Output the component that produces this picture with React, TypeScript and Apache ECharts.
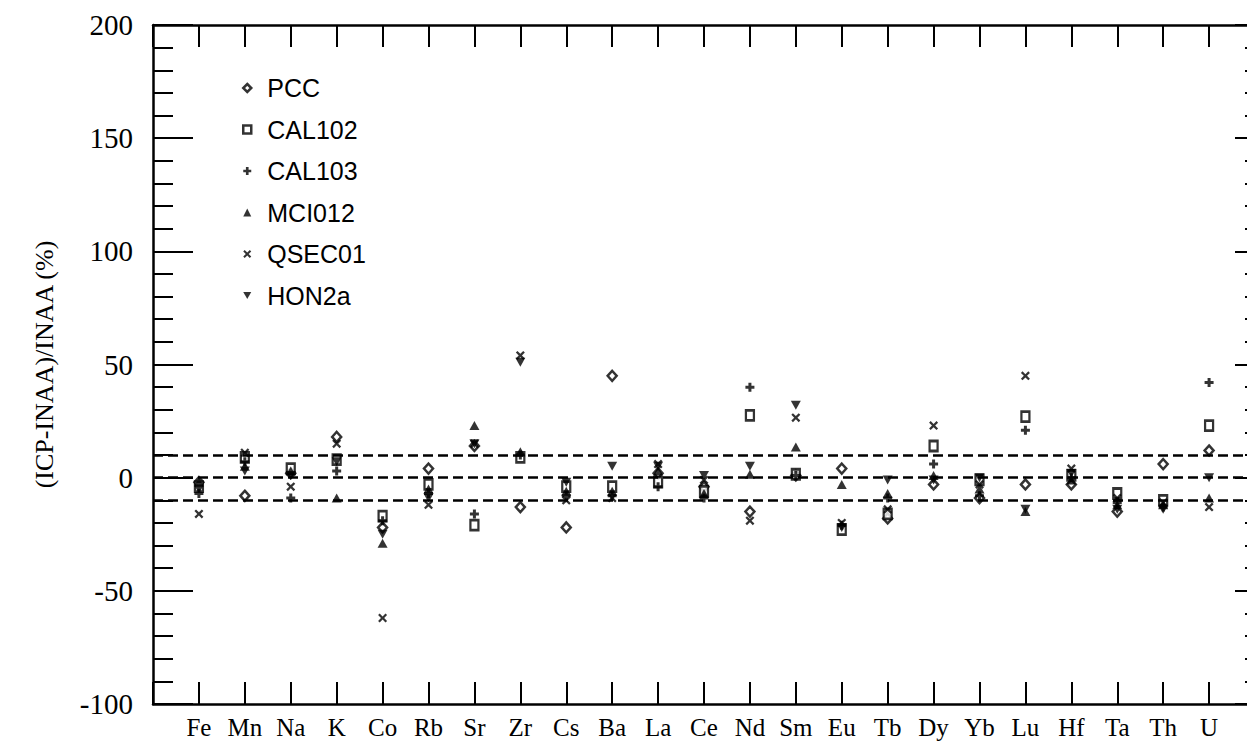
import React, { useEffect, useRef } from "react";
import * as echarts from "echarts";

const categories = ["Fe","Mn","Na","K","Co","Rb","Sr","Zr","Cs","Ba","La","Ce","Nd","Sm","Eu","Tb","Dy","Yb","Lu","Hf","Ta","Th","U"];

const PCC =    [-2, -8, 2, 18, -22, 4, 14, -13, -22, 45, 2, -4, -15, 1, 4, -18, -3, -9, -3, -3, -15, 6, 12];
const CAL102 = [-4, 9, 4, 8, -17, -3, -21, 9, -4, -4, -2, -6, 27.5, 1.5, -23, -16, 14, -1, 27, 1, -7, -10, 23];
const CAL103 = [-7, 7, -9, 3, -19, -7, -16, 10, -8, -8, -4, -9, 40, 1, -21, -9, 6, -8, 21, 0, -11, -13, 42];
const MCI012 = [-2, 5, 3, -9, -29, -5, 23, 11.5, -6, -6, 3, -7, 1.5, 13.5, -3, -7, 1, -5, -15, -1, -12, -12, -9];
const QSEC01 = [-16, 11, -4, 15, -62, -12, 15, 54, -10, -9, 6, -1, -19, 26.5, -20, -14, 23, -3, 45, 4, -9, -11, -13];
const HON2a =  [-5, 3, 1, 7, -25, -9, 15, 51, -2, 5, 5, 1, 5, 32, -22, -1, -1, 0, -14, 2, -14, -14, 0];

const refLines = [10, 0, -10];
const yTicks = { min: -100, max: 200, interval: 50 };

const PLUS = "path://M3,0H6V3H9V6H6V9H3V6H0V3H3Z";
const CROSS = "path://M0,1.6L1.6,0L4.5,2.9L7.4,0L9,1.6L6.1,4.5L9,7.4L7.4,9L4.5,6.1L1.6,9L0,7.4L2.9,4.5Z";
const DOWN_TRI = "path://M0,0H10L5,9Z";

export default function App() {
  const ref = useRef<HTMLDivElement>(null);
  useEffect(() => {
    if (!ref.current) return;
    const chart = echarts.init(ref.current, null, { renderer: "svg" });
    const toData = (arr: number[]) => arr.map((v, i) => [i + 1, v]);
    const hollow = { color: "#fff", borderColor: "#000", borderWidth: 2.5 };
    const filled = { color: "#000" };
    const serif = "'Liberation Serif', 'Times New Roman', serif";
    const sans = "'Liberation Sans', Arial, sans-serif";
    const series: any[] = [
      { name: "PCC", symbol: "diamond", symbolSize: [9, 10], itemStyle: hollow, data: toData(PCC) },
      { name: "CAL102", symbol: "rect", symbolSize: [8, 10], itemStyle: hollow, data: toData(CAL102) },
      { name: "CAL103", symbol: PLUS, symbolSize: 9, itemStyle: filled, data: toData(CAL103) },
      { name: "MCI012", symbol: "triangle", symbolSize: [10, 9], itemStyle: filled, data: toData(MCI012) },
      { name: "QSEC01", symbol: CROSS, symbolSize: 9, itemStyle: filled, data: toData(QSEC01) },
      { name: "HON2a", symbol: DOWN_TRI, symbolSize: [10, 9], itemStyle: filled, data: toData(HON2a) },
    ].map((s) => ({ type: "scatter", ...s }));
    series[0].markLine = {
      silent: true,
      symbol: "none",
      label: { show: false },
      lineStyle: { color: "#000", width: 2.5, type: [10, 5] },
      data: refLines.map((v) => ({ yAxis: v })),
    };
    const mkLine = () => ({ show: true, onZero: false, lineStyle: { color: "#000", width: 2.5 } });
    const mkTick = (len: number) => ({ show: true, inside: true, length: len, lineStyle: { color: "#000", width: 2 } });
    const mkMinor = (len: number) => ({ show: true, splitNumber: 5, length: len, lineStyle: { color: "#000", width: 2 } });
    const legendIcons = series.map((s) => ({
      name: s.name,
      icon: s.symbol,
      itemStyle: s.itemStyle,
    }));
    chart.setOption({
      animation: false,
      backgroundColor: "#fff",
      grid: { left: 153, right: -8, top: 25, bottom: 43, outerBoundsMode: "none" },
      legend: {
        orient: "vertical",
        left: 237,
        top: 70,
        itemWidth: 8,
        itemHeight: 8,
        itemGap: 15.5,
        data: legendIcons,
        textStyle: { fontFamily: sans, fontSize: 25, color: "#000", lineHeight: 26, padding: [0, 0, 0, 11] },
      },
      xAxis: [
        {
          type: "value",
          position: "bottom",
          min: 0,
          max: 24,
          interval: 1,
          axisLine: mkLine(),
          splitLine: { show: false },
          axisTick: mkTick(22),
          axisLabel: {
            fontFamily: serif,
            fontSize: 25,
            color: "#000",
            margin: 11,
            formatter: (v: number) => (v >= 1 && v <= categories.length ? categories[v - 1] : ""),
          },
        },
        {
          type: "value",
          position: "top",
          min: 0,
          max: 24,
          interval: 1,
          axisLine: mkLine(),
          splitLine: { show: false },
          axisTick: mkTick(22),
          axisLabel: { show: false },
        },
      ],
      yAxis: [
        {
          type: "value",
          position: "left",
          ...yTicks,
          axisLine: mkLine(),
          splitLine: { show: false },
          axisTick: mkTick(40),
          minorTick: mkMinor(20),
          axisLabel: { fontFamily: serif, fontSize: 29, color: "#000", margin: 20 },
          name: "(ICP-INAA)/INAA (%)",
          nameLocation: "middle",
          nameGap: 96,
          nameTextStyle: { fontFamily: serif, fontSize: 26, color: "#000" },
        },
        {
          type: "value",
          position: "right",
          ...yTicks,
          axisLine: mkLine(),
          splitLine: { show: false },
          axisTick: mkTick(20),
          minorTick: mkMinor(10),
          axisLabel: { show: false },
        },
      ],
      series,
    });
    return () => chart.dispose();
  }, []);
  return (
    <div
      ref={ref}
      style={{ position: "fixed", left: 0, top: 0, width: 1247, height: 747, background: "#fff" }}
    />
  );
}
